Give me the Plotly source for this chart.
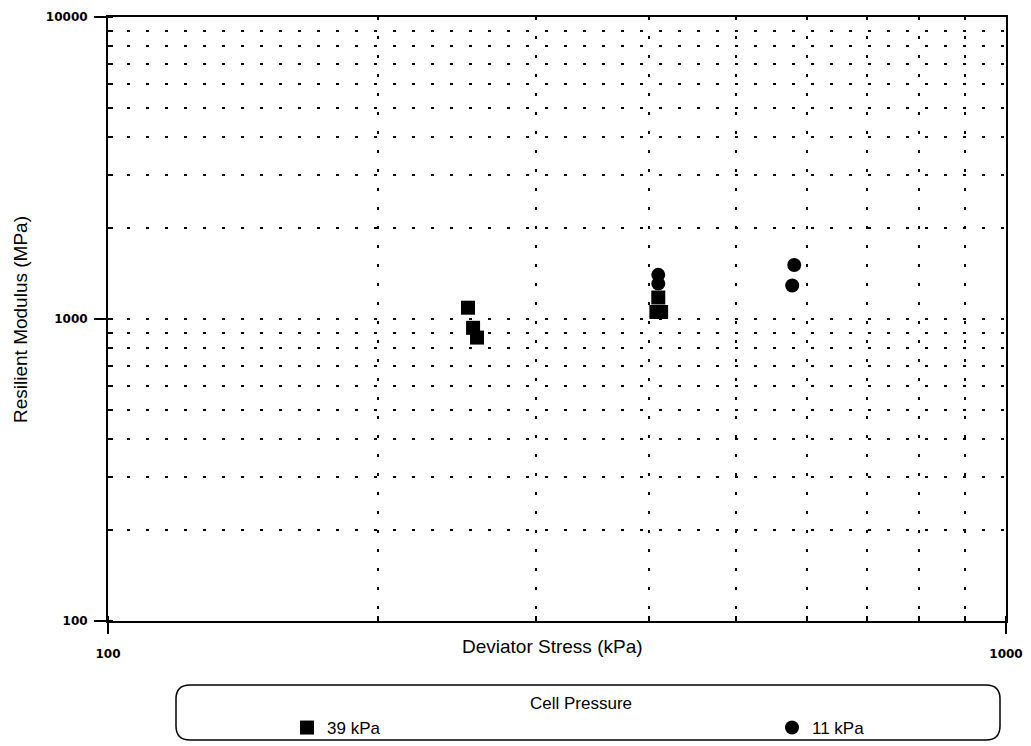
import plotly.graph_objects as go

# Data (Deviator Stress kPa, Resilient Modulus MPa)
cp39_stress = [251.7, 255.0, 257.6, 410.0, 408.0, 413.0]
cp39_modulus = [1090, 935, 868, 1178, 1055, 1055]
cp11_stress = [410.0, 410.0, 581.0, 578.0]
cp11_modulus = [1400, 1310, 1509, 1291]

series_names = ["39 kPa", "11 kPa"]
legend_title = "Cell Pressure"
x_title = "Deviator Stress (kPa)"
y_title = "Resilient Modulus (MPa)"

# layout in pixels
W, H = 1031, 746
L, R, T, B = 108, 25, 17, 125
PW, PH = W - L - R, H - T - B

def px(xp):
    return (xp - L) / PW

def py(yp):
    return (H - B - yp) / PH

fig = go.Figure()
fig.add_trace(go.Scatter(
    x=cp39_stress, y=cp39_modulus, mode="markers", name=series_names[0],
    marker=dict(symbol="square", size=14, color="black"), legend="legend",
))
fig.add_trace(go.Scatter(
    x=cp11_stress, y=cp11_modulus, mode="markers", name=series_names[1],
    marker=dict(symbol="circle", size=14, color="black"), legend="legend2",
))

grid = dict(gridcolor="black", gridwidth=1.6, griddash="3px,16px")
tickfont = dict(family="DejaVu Sans", size=12, color="black", weight="bold")

fig.update_xaxes(
    type="log", range=[2, 3], dtick=1, tickvals=[100, 1000], ticktext=["100", "1000"],
    showline=True, linecolor="black", linewidth=2, mirror=True,
    ticks="outside", ticklen=11, tickwidth=2, tickcolor="black",
    tickfont=tickfont, ticklabelstandoff=10,
    showgrid=True, **grid,
    minor=dict(dtick="D1", ticks="inside", ticklen=5, tickwidth=1.5, tickcolor="black",
               showgrid=True, **grid),
    zeroline=False,
)
fig.update_yaxes(
    type="log", range=[2, 4], dtick=1, tickvals=[100, 1000, 10000],
    ticktext=["100", "1000", "10000"],
    showline=True, linecolor="black", linewidth=2, mirror=True,
    ticks="outside", ticklen=12, tickwidth=2, tickcolor="black",
    tickfont=tickfont, ticklabelstandoff=4,
    showgrid=True, **grid,
    minor=dict(dtick="D1", ticks="inside", ticklen=5, tickwidth=1.5, tickcolor="black",
               showgrid=True, **grid),
    zeroline=False,
)

# rounded legend frame
x0, x1 = px(176), px(1000)
y0, y1 = py(740), py(685)
rx, ry = 14 / PW, 14 / PH
path = (f"M {x0+rx},{y1} L {x1-rx},{y1} Q {x1},{y1} {x1},{y1-ry} "
        f"L {x1},{y0+ry} Q {x1},{y0} {x1-rx},{y0} L {x0+rx},{y0} "
        f"Q {x0},{y0} {x0},{y0+ry} L {x0},{y1-ry} Q {x0},{y1} {x0+rx},{y1} Z")
fig.add_shape(type="path", path=path, xref="paper", yref="paper",
              line=dict(color="black", width=1.5), fillcolor="rgba(0,0,0,0)")

fig.add_annotation(text=x_title, xref="paper", yref="paper", x=px(552), y=py(646),
                   xanchor="center", yanchor="middle", showarrow=False,
                   font=dict(family="Liberation Sans", size=19, color="black"))
fig.add_annotation(text=y_title, xref="paper", yref="paper", x=px(20), y=py(320),
                   xanchor="center", yanchor="middle", showarrow=False, textangle=-90,
                   font=dict(family="Liberation Sans", size=19, color="black"))
fig.add_annotation(text=legend_title, xref="paper", yref="paper", x=px(581), y=py(703),
                   xanchor="center", yanchor="middle", showarrow=False,
                   font=dict(family="Liberation Sans", size=17, color="black"))

leg_common = dict(orientation="h", xanchor="left", yanchor="middle",
                  font=dict(size=17), bgcolor="rgba(0,0,0,0)", borderwidth=0)

fig.update_layout(
    width=W, height=H,
    margin=dict(l=L, r=R, t=T, b=B, autoexpand=False),
    paper_bgcolor="white", plot_bgcolor="white",
    font=dict(family="Liberation Sans", color="black", size=17),
    showlegend=True,
    legend=dict(x=px(287), y=py(728), **leg_common),
    legend2=dict(x=px(772), y=py(728), **leg_common),
)

fig.write_html("out.html")
